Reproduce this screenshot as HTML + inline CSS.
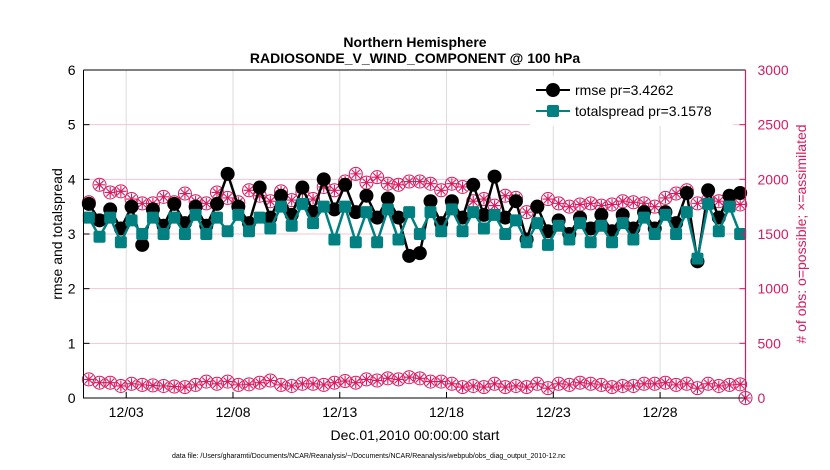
<!DOCTYPE html>
<html><head><meta charset="utf-8"><style>
body{margin:0;background:#fff;}
svg{display:block;font-family:"Liberation Sans",Arial,sans-serif;}
</style></head><body>
<svg id="chart" width="830" height="470" viewBox="0 0 830 470" xmlns="http://www.w3.org/2000/svg">
<rect width="830" height="470" fill="#fff"/>
<text x="415" y="47" text-anchor="middle" font-size="14" font-weight="bold">Northern Hemisphere</text>
<text x="415" y="63" text-anchor="middle" font-size="14" font-weight="bold">RADIOSONDE_V_WIND_COMPONENT @ 100 hPa</text>
<g id="grid"></g>
<g id="series"></g>
<g id="axes"></g>
<text transform="translate(62,234) rotate(-90)" text-anchor="middle" font-size="14">rmse and totalspread</text>
<text transform="translate(806,234) rotate(-90)" text-anchor="middle" font-size="14" fill="#d81b60">#  of obs: o=possible; ×=assimilated</text>
<text x="415" y="440" text-anchor="middle" font-size="14">Dec.01,2010 00:00:00 start</text>
<text x="172" y="458" font-size="7">data file: /Users/gharamti/Documents/NCAR/Reanalysis/~/Documents/NCAR/Reanalysis/webpub/obs_diag_output_2010-12.nc</text>
<g id="legend"></g>
</svg>
<script>
const rmse=[3.55,3.25,3.45,3.1,3.5,2.8,3.45,3.15,3.55,3.2,3.5,3.15,3.55,4.1,3.5,3.2,3.85,3.3,3.7,3.35,3.85,3.4,4.0,3.45,3.9,3.4,3.7,3.3,3.65,3.3,2.6,2.65,3.6,3.2,3.6,3.3,3.9,3.35,4.05,3.3,3.6,2.9,3.5,3.05,3.25,3.0,3.3,3.1,3.35,3.05,3.35,3.1,3.4,3.1,3.4,3.2,3.75,2.5,3.8,3.3,3.7,3.75];
const spread=[3.3,2.95,3.3,2.85,3.25,3.0,3.3,3.0,3.3,3.0,3.35,3.0,3.3,3.05,3.35,3.05,3.3,3.1,3.5,3.15,3.55,3.2,3.5,2.9,3.5,2.85,3.4,2.85,3.45,2.9,3.4,3.0,3.4,3.05,3.45,3.05,3.4,3.1,3.35,3.0,3.25,2.85,3.2,2.8,3.15,2.9,3.2,2.85,3.15,2.85,3.2,2.9,3.3,3.0,3.35,3.0,3.4,2.55,3.55,3.05,3.5,3.0];
const obsUpper=[1790,1950,1880,1890,1820,1780,1780,1840,1790,1870,1800,1780,1880,1830,1790,1900,1850,1800,1890,1810,1880,1820,1930,1900,1980,2050,1970,2020,1960,1950,1980,1980,1960,1900,1960,1930,1800,1820,1760,1850,1830,1700,1750,1820,1780,1750,1770,1780,1760,1770,1800,1790,1780,1750,1830,1870,1900,1780,1810,1800,1770,1770];
const obsLower=[170,140,140,110,130,120,115,110,105,100,120,150,130,150,120,125,140,160,120,110,130,130,120,140,155,140,170,160,180,170,190,180,150,150,130,100,110,100,130,100,110,100,130,90,130,120,140,130,120,100,110,110,130,130,140,120,130,90,130,110,120,125,0];
const leftTicks=[0,1,2,3,4,5,6];
const rightTicks=[0,500,1000,1500,2000,2500,3000];
const xTickDays=[2,7,12,17,22,27];
const xTickLabels=['12/03','12/08','12/13','12/18','12/23','12/28'];
const legendLabels=['rmse pr=3.4262','totalspread pr=3.1578'];

const X0=83.5,X1=745.5,Y0=398,Y1=70,NS='http://www.w3.org/2000/svg';
const xs=t=>X0+(t/31)*(X1-X0);
const yl=v=>Y0-(v/6)*(Y0-Y1);
const yr=v=>Y0-(v/3000)*(Y0-Y1);
const tOf=i=>0.25+0.5*i;
const RED='#d81b60',TEAL='#008080';
function el(tag,attrs,parent){const e=document.createElementNS(NS,tag);for(const k in attrs)e.setAttribute(k,attrs[k]);parent.appendChild(e);return e;}
const grid=document.getElementById('grid'),ser=document.getElementById('series'),ax=document.getElementById('axes'),leg=document.getElementById('legend');

xTickDays.forEach((d,i)=>{const x=xs(d);
 const g=el('line',{x1:x,x2:x,y1:Y1,y2:Y0,stroke:'#dcdcdc','stroke-width':1},grid);
 
 
 const tk=el('line',{x1:x,x2:x,y1:Y0,y2:Y0-6,stroke:'#000'},ax);
 
 
 const tx=el('text',{x:x,y:Y0+19,'text-anchor':'middle','font-size':14},ax);tx.textContent=xTickLabels[i];
 
 
});
rightTicks.forEach(v=>{const y=yr(v);
 if(v>0&&v<3000){const g=el('line',{x1:X0,x2:X1,y1:y,y2:y,stroke:'#f3c6d6','stroke-width':1},grid);
 
 }
 const tk=el('line',{x1:X1,x2:X1-6,y1:y,y2:y,stroke:RED},ax);
 
 
 const tx=el('text',{x:X1+12,y:y+5,'font-size':14,fill:RED},ax);tx.textContent=v;
 
 
});
leftTicks.forEach(v=>{const y=yl(v);
 const tk=el('line',{x1:X0,x2:X0+6,y1:y,y2:y,stroke:'#000'},ax);
 
 
 const tx=el('text',{x:X0-8,y:y+5,'text-anchor':'end','font-size':14},ax);tx.textContent=v;
 
 
});
const ab=el('path',{d:`M${X0},${Y1}H${X1}M${X0},${Y1}V${Y0}H${X1}`,stroke:'#000',fill:'none','stroke-width':1},ax);


const ar=el('line',{x1:X1,x2:X1,y1:Y1,y2:Y0,stroke:RED,'stroke-width':1.2},ax);



function obsMarker(x,y,parent,name){
 const g=el('g',{},parent);
 
 
 el('circle',{cx:x,cy:y,r:6.5,fill:'none',stroke:RED,'stroke-width':1},g);
 el('path',{d:`M${x-5.5},${y}H${x+5.5}M${x},${y-5.5}V${y+5.5}M${x-4},${y-4}L${x+4},${y+4}M${x-4},${y+4}L${x+4},${y-4}`,stroke:RED,'stroke-width':1.1},g);
}
obsUpper.forEach((v,i)=>obsMarker(xs(tOf(i)),yr(v),ser,'obs-upper-point'));
obsLower.forEach((v,i)=>{const t=i<62?tOf(i):31;obsMarker(xs(t),yr(v),ser,'obs-lower-point');});

const rl=el('polyline',{points:rmse.map((v,i)=>xs(tOf(i))+','+yl(v)).join(' '),fill:'none',stroke:'#000','stroke-width':2.5},ser);


rmse.forEach((v,i)=>{const c=el('circle',{cx:xs(tOf(i)),cy:yl(v),r:7,fill:'#000'},ser);
 
 });
const sl=el('polyline',{points:spread.map((v,i)=>xs(tOf(i))+','+yl(v)).join(' '),fill:'none',stroke:TEAL,'stroke-width':2.5},ser);


spread.forEach((v,i)=>{const x=xs(tOf(i)),y=yl(v);const r=el('rect',{x:x-6,y:y-6,width:12,height:12,rx:2,fill:TEAL},ser);
 
 });

const lb=el('rect',{x:530,y:76,width:203,height:50,fill:'#fff',stroke:'none'},leg);


[0,1].forEach(k=>{const y=90+k*21;
 const g=el('g',{},leg);
 
 
 el('line',{x1:536,x2:570,y1:y,y2:y,stroke:k?TEAL:'#000','stroke-width':2},g);
 if(k)el('rect',{x:547,y:y-6,width:12,height:12,rx:2,fill:TEAL},g);
 else el('circle',{cx:553,cy:y,r:7,fill:'#000'},g);
 const t=el('text',{x:575,y:y+5,'font-size':14},g);t.textContent=legendLabels[k];
});
</script>
</body></html>
